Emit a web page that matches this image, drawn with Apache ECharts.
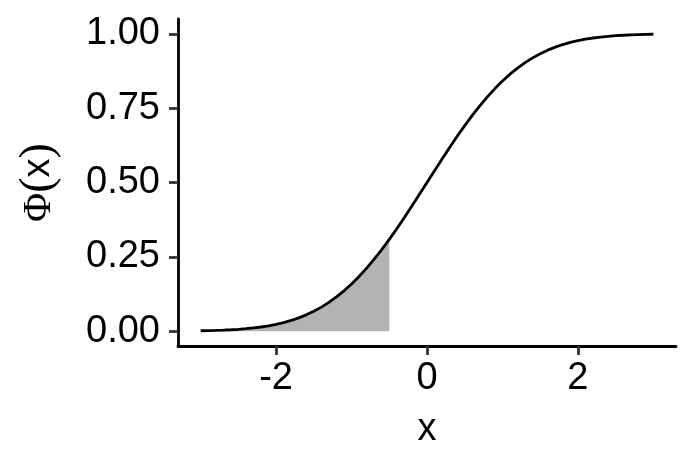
<!DOCTYPE html>
<html>
<head>
<meta charset="utf-8">
<script src="https://cdn.jsdelivr.net/npm/echarts@6/dist/echarts.min.js"></script>
<style>html,body{margin:0;padding:0;background:#fff}#c{width:699px;height:466px}</style>
</head>
<body>
<div id="c"></div>
<script>
// Data
var xValues = [-3.0, -2.9, -2.8, -2.7, -2.6, -2.5, -2.4, -2.3, -2.2, -2.1,
  -2.0, -1.9, -1.8, -1.7, -1.6, -1.5, -1.4, -1.3, -1.2, -1.1,
  -1.0, -0.9, -0.8, -0.7, -0.6, -0.5, -0.4, -0.3, -0.2, -0.1,
  0.0, 0.1, 0.2, 0.3, 0.4, 0.5, 0.6, 0.7, 0.8, 0.9,
  1.0, 1.1, 1.2, 1.3, 1.4, 1.5, 1.6, 1.7, 1.8, 1.9,
  2.0, 2.1, 2.2, 2.3, 2.4, 2.5, 2.6, 2.7, 2.8, 2.9, 3.0];
var phiValues = [0.0013, 0.0019, 0.0026, 0.0035, 0.0047, 0.0062, 0.0082, 0.0107, 0.0139, 0.0179,
  0.0228, 0.0287, 0.0359, 0.0446, 0.0548, 0.0668, 0.0808, 0.0968, 0.1151, 0.1357,
  0.1587, 0.1841, 0.2119, 0.2420, 0.2743, 0.3085, 0.3446, 0.3821, 0.4207, 0.4602,
  0.5000, 0.5398, 0.5793, 0.6179, 0.6554, 0.6915, 0.7257, 0.7580, 0.7881, 0.8159,
  0.8413, 0.8643, 0.8849, 0.9032, 0.9192, 0.9332, 0.9452, 0.9554, 0.9641, 0.9713,
  0.9772, 0.9821, 0.9861, 0.9893, 0.9918, 0.9938, 0.9953, 0.9965, 0.9974, 0.9981, 0.9987];
var shadeUpTo = -0.5;
var xTicks = [-2, 0, 2];
var yTicks = [0, 0.25, 0.5, 0.75, 1];

var curve = xValues.map(function (x, i) { return [x, phiValues[i]]; });
var shade = curve.filter(function (p) { return p[0] <= shadeUpTo + 1e-9; });

var chart = echarts.init(document.getElementById('c'));
var font = 'Liberation Sans, Arial, sans-serif';
var serif = 'Liberation Serif, Times New Roman, serif';
chart.setOption({
  animation: false,
  backgroundColor: '#ffffff',
  grid: { left: 178, top: 19, width: 498, height: 327, containLabel: false },
  xAxis: {
    type: 'value', min: -3.3, max: 3.3,
    name: 'x', nameLocation: 'middle', nameGap: 65,
    nameTextStyle: { fontFamily: font, fontSize: 38, color: '#000' },
    axisLine: { show: true, onZero: false, lineStyle: { color: '#000', width: 2.8 } },
    axisTick: { show: true, length: 9, lineStyle: { color: '#333', width: 2.8 },
      customValues: xTicks },
    axisLabel: { fontFamily: font, fontSize: 38, color: '#000', margin: 14,
      customValues: xTicks,
      formatter: function (v) { return String(v); } },
    splitLine: { show: false }
  },
  yAxis: {
    type: 'value', min: -0.05, max: 1.05,
    name: '{p|Φ}{q|(}{t|x}{q|)}', nameLocation: 'middle', nameGap: 116, nameRotate: 90,
    nameTextStyle: {
      color: '#000',
      rich: {
        p: { fontFamily: serif, fontSize: 40, color: '#000' },
        q: { fontFamily: serif, fontSize: 46, color: '#000' },
        t: { fontFamily: font, fontSize: 38, color: '#000' }
      }
    },
    axisLine: { show: true, onZero: false, lineStyle: { color: '#000', width: 2.8 } },
    axisTick: { show: true, length: 9, lineStyle: { color: '#333', width: 2.8 },
      customValues: yTicks },
    axisLabel: { fontFamily: font, fontSize: 38, color: '#000', margin: 18,
      customValues: yTicks,
      formatter: function (v) { return v.toFixed(2); } },
    splitLine: { show: false }
  },
  series: [
    {
      type: 'line', data: shade, showSymbol: false, symbol: 'none',
      lineStyle: { width: 0, opacity: 0 },
      areaStyle: { color: '#b3b3b3', opacity: 1, origin: 0 },
      z: 1, silent: true
    },
    {
      type: 'line', data: curve, showSymbol: false, symbol: 'none',
      lineStyle: { color: '#000', width: 2.8 },
      z: 2, silent: true
    }
  ]
});
</script>
</body>
</html>
